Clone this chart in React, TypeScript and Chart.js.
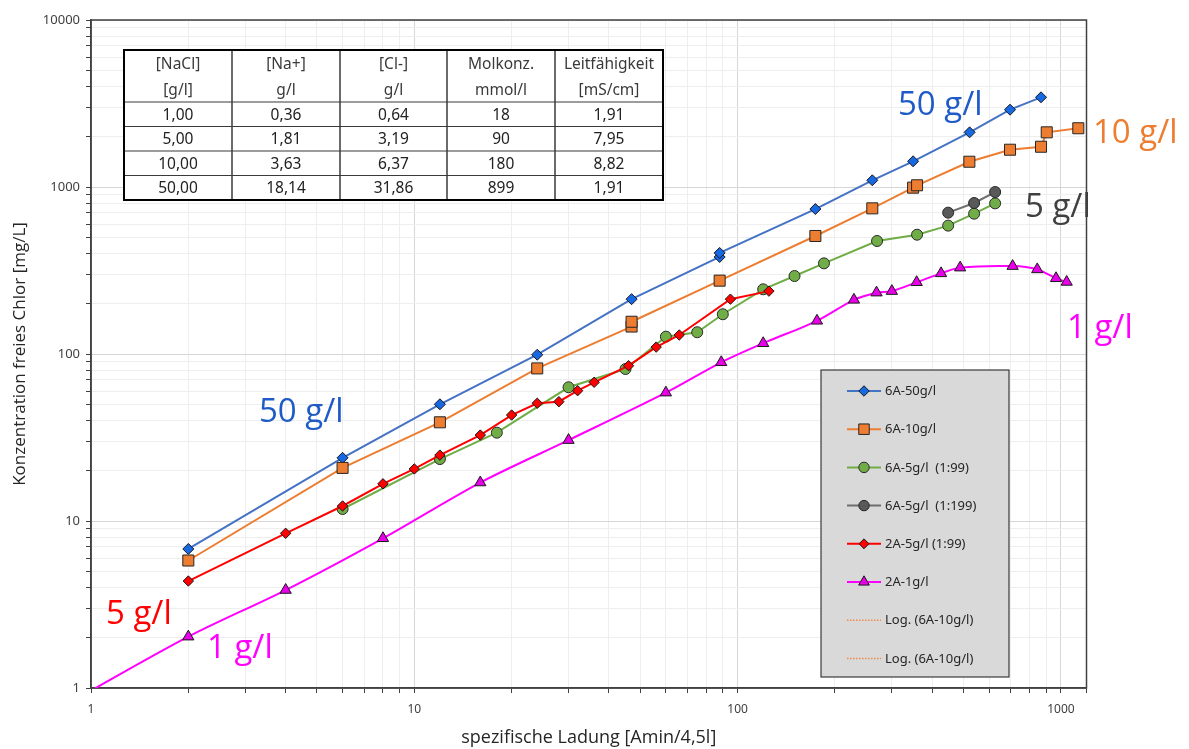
import React, { useEffect, useRef } from 'react';
import { Chart, registerables } from 'chart.js';

Chart.register(...registerables);

// ---------- data ----------
const blueX = [2, 6, 12, 24, 47, 88, 88, 174, 261, 349, 522, 696, 868];
const blueY = [6.8, 23.9, 50, 99, 213, 381, 403, 738, 1097, 1425, 2125, 2904, 3444];

const orangeX = [2, 6, 12, 24, 47, 47, 88, 174, 261, 349, 359, 521, 696, 868, 904, 1132];
const orangeY = [5.8, 20.8, 39, 82, 146, 156, 275, 509, 745, 991, 1024, 1417, 1672, 1742, 2125, 2248];

const greenX = [6, 12, 18, 30, 45, 60, 75, 90, 120, 150, 185, 270, 359, 448, 539, 626];
const greenY = [11.8, 23.5, 33.8, 63.2, 81.3, 127, 135, 173, 244, 293, 349, 475, 518, 587, 692, 798];

const grayX = [448, 539, 626];
const grayY = [702, 802, 933];

const redX = [2, 4, 6, 8, 10, 12, 16, 20, 24, 28, 32, 36, 46, 56, 66, 95, 125];
const redY = [4.37, 8.44, 12.3, 16.7, 20.5, 24.8, 32.7, 43.1, 50.7, 51.8, 60.3, 67.7, 85.1, 110, 130, 213, 238];

const magentaX = [0.9, 2, 4, 8, 16, 30, 60, 89, 120, 176, 229, 269, 300, 358, 426, 488, 709, 845, 966, 1042];
const magentaY = [0.86, 2.03, 3.86, 7.88, 17.0, 30.5, 58.7, 89.2, 116, 158, 211, 233, 238, 269, 304, 329, 336, 321, 284, 270];

const seriesLabels = [
  '6A-50g/l',
  '6A-10g/l',
  '6A-5g/l  (1:99)',
  '6A-5g/l  (1:199)',
  '2A-5g/l (1:99)',
  '2A-1g/l',
  'Log. (6A-10g/l)',
  'Log. (6A-10g/l)',
];

const xMin = 1;
const xMax = 1200;
const yMin = 1;
const yMax = 10000;
const xTickValues = [1, 2, 3, 4, 5, 6, 7, 8, 9, 10, 20, 30, 40, 50, 60, 70, 80, 90, 100, 200, 300, 400, 500, 600, 700, 800, 900, 1000, 1200];
const yTickValues = [1, 2, 3, 4, 5, 6, 7, 8, 9, 10, 20, 30, 40, 50, 60, 70, 80, 90, 100, 200, 300, 400, 500, 600, 700, 800, 900, 1000, 2000, 3000, 4000, 5000, 6000, 7000, 8000, 9000, 10000];

const tableHeader1 = ['[NaCl]', '[Na+]', '[Cl-]', 'Molkonz.', 'Leitfähigkeit'];
const tableHeader2 = ['[g/l]', 'g/l', 'g/l', 'mmol/l', '[mS/cm]'];
const tableRow1 = ['1,00', '0,36', '0,64', '18', '1,91'];
const tableRow2 = ['5,00', '1,81', '3,19', '90', '7,95'];
const tableRow3 = ['10,00', '3,63', '6,37', '180', '8,82'];
const tableRow4 = ['50,00', '18,14', '31,86', '899', '1,91'];

const annotationTexts = ['50 g/l', '50 g/l', '10 g/l', '5 g/l', '1 g/l', '5 g/l', '1 g/l'];

// ---------- styles ----------
const FONT = "'Noto Sans', 'Open Sans', 'DejaVu Sans', sans-serif";
const BIG_FONT = "'Open Sans', 'Noto Sans', sans-serif";

const styles = [
  { line: '#4472C4', fill: '#1668E3', edge: '#1a1a1a', shape: 'rectRot', radius: 5.5 },
  { line: '#ED7D31', fill: '#ED7D31', edge: '#262626', shape: 'rect', radius: 7.8 },
  { line: '#70AD47', fill: '#70AD47', edge: '#2a2a2a', shape: 'circle', radius: 5.5 },
  { line: '#6E6E6E', fill: '#595959', edge: '#262626', shape: 'circle', radius: 5.5 },
  { line: '#FF0000', fill: '#FF0000', edge: '#1a1a1a', shape: 'rectRot', radius: 5.2 },
  { line: '#FF00FF', fill: '#E800E8', edge: '#1a1a1a', shape: 'triangle', radius: 6.5 },
  { line: '#F08A4B', fill: '#F08A4B', edge: '#F08A4B', shape: 'none', radius: 0, dash: [1.5, 1.5] },
  { line: '#F08A4B', fill: '#F08A4B', edge: '#F08A4B', shape: 'none', radius: 0, dash: [1.5, 1.5] },
];

const annotationStyles = [
  { color: '#1F5BC6', x: 259, y: 422 },
  { color: '#1F5BC6', x: 898, y: 115 },
  { color: '#ED7D31', x: 1093, y: 143 },
  { color: '#404040', x: 1025, y: 217 },
  { color: '#FF00FF', x: 1067, y: 338 },
  { color: '#FF0000', x: 106, y: 624 },
  { color: '#FF00FF', x: 207, y: 658 },
];

const isDecade = (v: number) => {
  const l = Math.log10(v);
  return Math.abs(l - Math.round(l)) < 1e-9;
};

function drawMarker(ctx: CanvasRenderingContext2D, shape: string, x: number, y: number, r: number, fill: string, edge: string) {
  if (shape === 'none' || r <= 0) return;
  ctx.beginPath();
  if (shape === 'circle') {
    ctx.arc(x, y, r, 0, Math.PI * 2);
  } else if (shape === 'rect') {
    const s = r * Math.SQRT1_2;
    ctx.rect(x - s, y - s, 2 * s, 2 * s);
  } else if (shape === 'rectRot') {
    ctx.moveTo(x, y - r);
    ctx.lineTo(x + r, y);
    ctx.lineTo(x, y + r);
    ctx.lineTo(x - r, y);
    ctx.closePath();
  } else if (shape === 'triangle') {
    let rad = 0;
    ctx.moveTo(x + Math.sin(rad) * r, y - Math.cos(rad) * r);
    rad += (2 * Math.PI) / 3;
    ctx.lineTo(x + Math.sin(rad) * r, y - Math.cos(rad) * r);
    rad += (2 * Math.PI) / 3;
    ctx.lineTo(x + Math.sin(rad) * r, y - Math.cos(rad) * r);
    ctx.closePath();
  }
  ctx.fillStyle = fill;
  ctx.fill();
  ctx.strokeStyle = edge;
  ctx.lineWidth = 1;
  ctx.stroke();
}

export default function App() {
  const ref = useRef<HTMLCanvasElement>(null);

  useEffect(() => {
    if (!ref.current) return;
    const xs = [blueX, orangeX, greenX, grayX, redX, magentaX, [], []];
    const ys = [blueY, orangeY, greenY, grayY, redY, magentaY, [], []];

    const datasets = seriesLabels.map((label, i) => {
      const st: any = styles[i];
      return {
        label,
        data: (xs[i] as number[]).map((x, j) => ({ x, y: (ys[i] as number[])[j] })),
        showLine: true,
        borderColor: st.line,
        backgroundColor: st.fill,
        borderWidth: st.dash ? 1.5 : 2,
        borderDash: st.dash || [],
        pointStyle: st.shape === 'none' ? false : st.shape,
        pointRadius: st.radius,
        pointBackgroundColor: st.fill,
        pointBorderColor: st.edge,
        pointBorderWidth: 1,
        tension: i === 5 ? 0.3 : 0,
        order: 20 - i,
        clip: 0,
      };
    });

    const decor = {
      id: 'decor',
      beforeDatasetsDraw(chart: any) {
        const { ctx, chartArea: a } = chart;
        ctx.save();
        ctx.strokeStyle = '#404040';
        ctx.lineWidth = 1.5;
        ctx.strokeRect(a.left, a.top, a.right - a.left, a.bottom - a.top);
        ctx.restore();
      },
      afterDraw(chart: any) {
        const ctx: CanvasRenderingContext2D = chart.ctx;
        ctx.save();

        // ---- table ----
        const colX = [124, 232, 340, 447, 555, 663];
        const rowY = [50, 77, 102, 126.5, 151, 175.5, 200];
        const rows = [tableHeader1, tableHeader2, tableRow1, tableRow2, tableRow3, tableRow4];
        ctx.fillStyle = '#ffffff';
        ctx.fillRect(colX[0], rowY[0], colX[5] - colX[0], rowY[6] - rowY[0]);
        ctx.font = `15.5px ${FONT}`;
        ctx.textAlign = 'center';
        ctx.textBaseline = 'middle';
        rows.forEach((row, r) => {
          row.forEach((cell, c) => {
            ctx.fillStyle = r < 2 ? '#3a3a3a' : '#222222';
            ctx.fillText(cell, (colX[c] + colX[c + 1]) / 2, (rowY[r] + rowY[r + 1]) / 2 + 1);
          });
        });
        ctx.strokeStyle = '#3a3a3a';
        ctx.lineWidth = 1.5;
        for (let c = 1; c < 5; c++) {
          ctx.beginPath();
          ctx.moveTo(colX[c], rowY[0]);
          ctx.lineTo(colX[c], rowY[6]);
          ctx.stroke();
        }
        ctx.lineWidth = 1.2;
        for (let r = 2; r < 6; r++) {
          ctx.beginPath();
          ctx.moveTo(colX[0], rowY[r]);
          ctx.lineTo(colX[5], rowY[r]);
          ctx.stroke();
        }
        ctx.strokeStyle = '#000000';
        ctx.lineWidth = 2;
        ctx.strokeRect(colX[0], rowY[0], colX[5] - colX[0], rowY[6] - rowY[0]);

        // ---- legend ----
        const lx = 821, ly = 370, lw = 188, lh = 307;
        ctx.fillStyle = '#D9D9D9';
        ctx.fillRect(lx, ly, lw, lh);
        ctx.strokeStyle = '#3a3a3a';
        ctx.lineWidth = 1.2;
        ctx.strokeRect(lx, ly, lw, lh);
        ctx.font = `13px ${FONT}`;
        ctx.textAlign = 'left';
        ctx.textBaseline = 'middle';
        seriesLabels.forEach((label, i) => {
          const st: any = styles[i];
          const y = 391 + i * 38.2;
          ctx.save();
          ctx.strokeStyle = st.line;
          ctx.lineWidth = st.dash ? 1.5 : 2;
          ctx.setLineDash(st.dash || []);
          ctx.beginPath();
          ctx.moveTo(847, y);
          ctx.lineTo(881, y);
          ctx.stroke();
          ctx.restore();
          drawMarker(ctx, st.shape, 864, y, st.radius * 0.95, st.fill, st.edge);
          ctx.fillStyle = '#262626';
          ctx.fillText(label, 885, y + 0.5);
        });

        // ---- annotations ----
        ctx.font = `33px ${BIG_FONT}`;
        ctx.textAlign = 'left';
        ctx.textBaseline = 'alphabetic';
        annotationTexts.forEach((t, i) => {
          const a = annotationStyles[i];
          ctx.fillStyle = a.color;
          ctx.fillText(t, a.x, a.y);
        });
        ctx.restore();
      },
    };

    const gridColor = (ctx: any) => (ctx.tick && isDecade(ctx.tick.value) ? '#d6d6d6' : '#eeeeee');

    const chart = new Chart(ref.current, {
      type: 'scatter',
      data: { datasets: datasets as any },
      options: {
        animation: false,
        responsive: false,
        maintainAspectRatio: false,
        devicePixelRatio: 1,
        layout: { padding: { left: 0, top: 20, right: 102.5, bottom: 0 } },
        plugins: {
          legend: { display: false },
          tooltip: { enabled: false },
        },
        scales: {
          x: {
            type: 'logarithmic',
            min: xMin,
            max: xMax,
            afterBuildTicks: (s: any) => {
              s.ticks = xTickValues.map((v) => ({ value: v }));
            },
            afterFit: (s: any) => {
              s.height = 61;
            },
            ticks: {
              autoSkip: false,
              maxRotation: 0,
              padding: 9,
              color: '#404040',
              font: { size: 12, family: FONT },
              callback: (v: any) => (isDecade(Number(v)) ? String(v) : ''),
            },
            grid: { color: gridColor, tickColor: '#404040', tickLength: 5, lineWidth: 1 },
            border: { color: '#404040', width: 1.5 },
            title: {
              display: true,
              text: 'spezifische Ladung [Amin/4,5l]',
              color: '#262626',
              font: { size: 18, family: BIG_FONT },
              padding: { top: 0, bottom: 0 },
            },
          },
          y: {
            type: 'logarithmic',
            min: yMin,
            max: yMax,
            afterBuildTicks: (s: any) => {
              s.ticks = yTickValues.map((v) => ({ value: v }));
            },
            afterFit: (s: any) => {
              s.width = 91;
            },
            ticks: {
              autoSkip: false,
              padding: 6,
              color: '#404040',
              font: { size: 13, family: FONT },
              callback: (v: any) => (isDecade(Number(v)) ? String(v) : ''),
            },
            grid: { color: gridColor, tickColor: '#404040', tickLength: 5, lineWidth: 1 },
            border: { color: '#404040', width: 1.5 },
            title: {
              display: true,
              text: 'Konzentration freies Chlor [mg/L]',
              color: '#262626',
              font: { size: 17, family: BIG_FONT },
              padding: { top: 10, bottom: 0 },
            },
          },
        },
      } as any,
      plugins: [decor],
    });

    return () => chart.destroy();
  }, []);

  return (
    <div style={{ position: 'absolute', left: 0, top: 0, width: 1189, height: 749, background: '#ffffff' }}>
      <canvas ref={ref} width={1189} height={749} style={{ display: 'block', width: 1189, height: 749 }} />
    </div>
  );
}
